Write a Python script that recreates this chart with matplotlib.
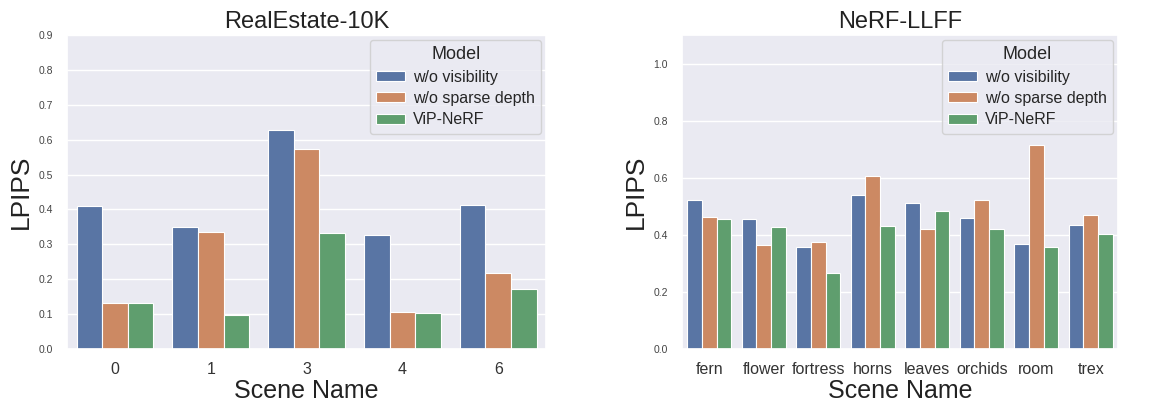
import matplotlib
matplotlib.use("Agg")
import matplotlib.pyplot as plt
import seaborn as sns
import numpy as np

sns.set_theme(style="darkgrid")
plt.rcParams['font.family'] = ['Liberation Sans', 'DejaVu Sans']

models = ["w/o visibility", "w/o sparse depth", "ViP-NeRF"]
colors = ["#5975A4", "#CC8963", "#5F9E6E"]

re_scenes = ["0", "1", "3", "4", "6"]
re_wo_vis = [0.411, 0.351, 0.628, 0.328, 0.413]
re_wo_depth = [0.132, 0.336, 0.573, 0.105, 0.219]
re_vip = [0.132, 0.098, 0.333, 0.102, 0.173]

llff_scenes = ["fern", "flower", "fortress", "horns", "leaves", "orchids", "room", "trex"]
llff_wo_vis = [0.521, 0.454, 0.356, 0.539, 0.513, 0.460, 0.368, 0.434]
llff_wo_depth = [0.462, 0.364, 0.376, 0.606, 0.419, 0.521, 0.714, 0.469]
llff_vip = [0.456, 0.428, 0.265, 0.431, 0.482, 0.422, 0.358, 0.403]

fig = plt.figure(figsize=(11.67, 4.01), dpi=100)
ax1 = fig.add_axes([0.0574, 0.1297, 0.468 - 0.0574, 0.9127 - 0.1297])
ax2 = fig.add_axes([0.5844, 0.1297, 0.958 - 0.5844, 0.9127 - 0.1297])

def draw(ax, scenes, series, title, ylim, yticks):
    x = np.arange(len(scenes))
    w = 0.8 / 3
    for i, (vals, name, c) in enumerate(zip(series, models, colors)):
        ax.bar(x + (i - 1) * w, vals, width=w, color=c, label=name,
               edgecolor="white", linewidth=0.8)
    ax.grid(axis='x', visible=False)
    ax.set_xticks(x)
    ax.set_xticklabels(scenes, fontsize=11.5, color="#333333")
    ax.set_xlim(-0.5, len(scenes) - 0.5)
    ax.set_ylim(*ylim)
    ax.set_yticks(yticks)
    ax.set_yticklabels([f"{t:.1f}" for t in yticks], fontsize=7.5, color="#444444")
    ax.set_title(title, fontsize=17, color="#222222", pad=5)
    ax.set_xlabel("Scene Name", fontsize=18, labelpad=1, color="#222222")
    ax.set_ylabel("LPIPS", fontsize=19, color="#222222")
    ax.tick_params(axis='y', pad=4)
    ax.legend(title="Model", loc="upper right", fontsize=11.5,
              title_fontsize=13, handlelength=1.8, handleheight=0.6,
              handletextpad=0.5, borderaxespad=0.3, labelspacing=0.4)

draw(ax1, re_scenes, [re_wo_vis, re_wo_depth, re_vip], "RealEstate-10K",
     (0, 0.9), np.round(np.arange(0, 0.91, 0.1), 1))
draw(ax2, llff_scenes, [llff_wo_vis, llff_wo_depth, llff_vip], "NeRF-LLFF",
     (0, 1.1), np.round(np.arange(0, 1.01, 0.2), 1))

fig.savefig("out.png", dpi=100)
